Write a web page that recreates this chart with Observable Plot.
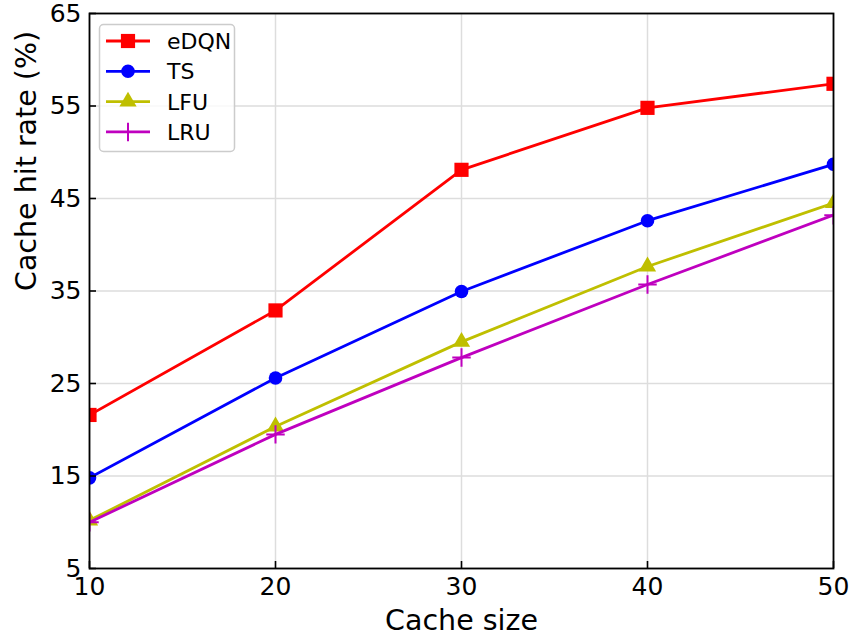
<!DOCTYPE html>
<html><head><meta charset="utf-8">
<script src="https://cdn.jsdelivr.net/npm/d3@7"></script>
<script src="https://cdn.jsdelivr.net/npm/@observablehq/plot@0.6"></script>
<style>
body{margin:0;background:#fff;}
#wrap{position:relative;width:852px;height:641px;}
#wrap > svg{display:block;}
#legend{position:absolute;left:0;top:0;pointer-events:none;}
</style>
</head><body><div id="wrap"></div>
<script>
const cacheSizes = [10, 20, 30, 40, 50];
const eDQN = [21.6, 32.9, 48.1, 54.8, 57.4];
const TS = [14.8, 25.6, 34.95, 42.6, 48.7];
const LFU = [10.2, 20.35, 29.5, 37.65, 44.5];
const LRU = [10.0, 19.5, 27.8, 35.7, 43.2];
const seriesNames = ["eDQN", "TS", "LFU", "LRU"];
const seriesValues = [eDQN, TS, LFU, LRU];
const seriesColors = ["#ff0000", "#0000ff", "#bfbf00", "#bf00bf"];
const seriesSymbols = ["square", "circle", "triangle", "plus"];
const xTicks = [10, 20, 30, 40, 50];
const yTicks = [5, 15, 25, 35, 45, 55, 65];
const xLabel = "Cache size";
const yLabel = "Cache hit rate (%)";

const W = 852, H = 641;
const mL = 89, mR = 19, mT = 13, mB = 73;
const innerW = W - mL - mR, innerH = H - mT - mB;
const symR = {square: 8, circle: 6.8, triangle: 6.4, plus: 6};

const seriesMarks = [];
seriesNames.forEach((name, i) => {
  const rows = cacheSizes.map((x, j) => ({series: name, x, y: seriesValues[i][j]}));
  const sym = seriesSymbols[i];
  seriesMarks.push(Plot.line(rows, {x: "x", y: "y", stroke: seriesColors[i], strokeWidth: 2.8, clip: true}));
  if (sym === "plus") {
    seriesMarks.push(Plot.dot(rows, {x: "x", y: "y", symbol: sym, r: symR[sym], stroke: seriesColors[i], strokeWidth: 2, fill: "none", clip: true}));
  } else {
    seriesMarks.push(Plot.dot(rows, {x: "x", y: "y", symbol: sym, r: symR[sym], fill: seriesColors[i], stroke: "none", clip: true}));
  }
});

const chart = Plot.plot({
  width: W, height: H,
  marginLeft: mL, marginRight: mR, marginTop: mT, marginBottom: mB,
  style: {fontFamily: "'DejaVu Sans', sans-serif", fontSize: "25px", color: "black", background: "white"},
  x: {domain: [10, 50]},
  y: {domain: [5, 65]},
  marks: [
    Plot.gridX(xTicks, {stroke: "#dddddd", strokeOpacity: 1, strokeWidth: 1.5}),
    Plot.gridY(yTicks, {stroke: "#dddddd", strokeOpacity: 1, strokeWidth: 1.5}),
    ...seriesMarks,
    Plot.frame({stroke: "black", strokeWidth: 1.8}),
    Plot.tickX(xTicks, {x: d => d, insetTop: innerH - 7, stroke: "black", strokeWidth: 1.6}),
    Plot.tickY(yTicks, {y: d => d, insetRight: innerW - 7, stroke: "black", strokeWidth: 1.6}),
    Plot.axisX(xTicks, {tickSize: 0, tickPadding: 9, fontSize: 25, label: null}),
    Plot.axisY(yTicks, {tickSize: 0, tickPadding: 8, fontSize: 25, label: null}),
    Plot.text([xLabel], {frameAnchor: "bottom", text: d => d, dy: 52, fontSize: 28.5, lineAnchor: "middle"}),
    Plot.text([yLabel], {frameAnchor: "left", text: d => d, dx: -63, rotate: -90, fontSize: 28.5, lineAnchor: "middle"})
  ]
});
const wrap = document.getElementById("wrap");
wrap.appendChild(chart);

// legend
const lg = d3.select(wrap).append("svg").attr("id", "legend").attr("width", W).attr("height", H)
  .style("font-family", "'DejaVu Sans', sans-serif");
lg.append("rect").attr("x", 99.5).attr("y", 24.5).attr("width", 135).attr("height", 127).attr("rx", 4)
  .attr("fill", "white").attr("fill-opacity", 0.8).attr("stroke", "#cccccc").attr("stroke-width", 1.5);
const d3sym = {square: d3.symbolSquare, circle: d3.symbolCircle, triangle: d3.symbolTriangle, plus: d3.symbolPlus};
seriesNames.forEach((name, i) => {
  const cy = 41 + i * 30.3;
  const g = lg.append("g");
  g.append("line").attr("x1", 106).attr("x2", 150).attr("y1", cy).attr("y2", cy)
    .attr("stroke", seriesColors[i]).attr("stroke-width", 2.8);
  const sym = seriesSymbols[i];
  const p = g.append("path").attr("transform", `translate(128,${cy})`)
    .attr("d", d3.symbol(d3sym[sym], Math.PI * symR[sym] * symR[sym])());
  if (sym === "plus") p.attr("fill", "none").attr("stroke", seriesColors[i]).attr("stroke-width", 2);
  else p.attr("fill", seriesColors[i]);
  g.append("text").attr("x", 167).attr("y", cy + 8).attr("font-size", 22).attr("fill", "black").text(name);
});
</script>
</body></html>
